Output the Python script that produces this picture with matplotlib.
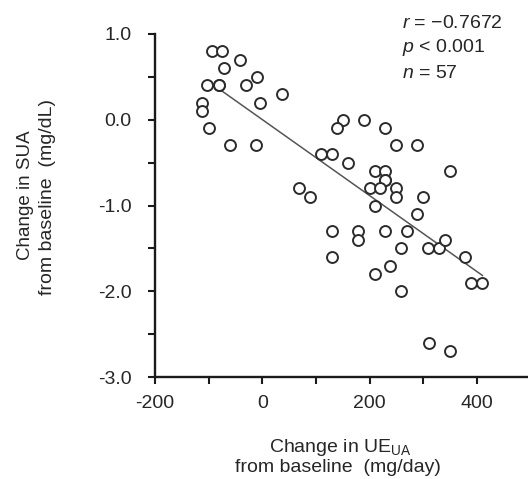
import numpy as np
import matplotlib.pyplot as plt

from matplotlib.pyplot import MultipleLocator

plt.rcParams['font.family']=['Liberation Sans','DejaVu Sans']
plt.rcParams['mathtext.fontset']='custom'
plt.rcParams['mathtext.rm']='Liberation Sans'
plt.rcParams['mathtext.it']='Liberation Sans:italic'

#change in urinary excretion of uric acid (mg/day)
list_change_UE=[-94,-75,-42,-72,-10,-30,-103,-81,-81,37,
                -4,-112,-112,-100,-61,-11,150,139,189,229,
                249,289,109,130,159,209,229,229,229,349,
                68,88,200,220,249,249,299,209,289,130,
                179,179,229,269,259,309,330,340,378,130,
                238,209,259,389,409,310,349]

#change in serum uric acid (mg/dL)
list_change_SUA=[0.8,0.8,0.7,0.6,0.5,0.4,0.4,0.4,0.4,0.3,
                 0.2,0.2,0.1,-0.1,-0.3,-0.3,0.0,-0.1,0.0,-0.1,
                 -0.3,-0.3,-0.4,-0.4,-0.5,-0.6,-0.6,-0.7,-0.7,-0.6,
                 -0.8,-0.9,-0.8,-0.8,-0.8,-0.9,-0.9,-1.0,-1.1,-1.3,
                 -1.3,-1.4,-1.3,-1.3,-1.5,-1.5,-1.5,-1.4,-1.6,-1.6,
                 -1.7,-1.8,-2.0,-1.9,-1.9,-2.6,-2.7]

#range covered by the regression line
list_fit_range=[-85,410]

str_stats=['$\\it{r}$ = \u22120.7672',
           '$\\it{p}$ < 0.001',
           '$\\it{n}$ = 57']

x_ticks=[-200,0,200,400]
y_ticks=[1.0,0.0,-1.0,-2.0,-3.0]

text_color='#262626'

fig=plt.figure(figsize=(5.28,4.79),dpi=100)

ax=fig.add_axes([155/528,1-377/479,375.75/528,343/479])

#scatter of individual patients
ax.scatter(list_change_UE,
           list_change_SUA,
           s=62,
           facecolors='white',
           edgecolors='#2b2b2b',
           linewidths=1.4,
           zorder=3,
           clip_on=False)

#least squares line
slope,intercept=np.polyfit(list_change_UE,list_change_SUA,1)
fit_x=np.array(list_fit_range)
ax.plot(fit_x,slope*fit_x+intercept,color='#555555',linewidth=1.1,zorder=2)

#axis boundary
ax.set_xlim([-200,500])
ax.set_ylim([-3,1])

ax.spines['top'].set_visible(False)
ax.spines['right'].set_visible(False)
ax.spines['left'].set_linewidth(1.7)
ax.spines['bottom'].set_linewidth(1.7)
ax.spines['left'].set_color('#1a1a1a')
ax.spines['bottom'].set_color('#1a1a1a')

#set locator
ax.set_xticks(x_ticks)
ax.set_xticklabels([str(t) for t in x_ticks])
ax.set_yticks(y_ticks)
ax.set_yticklabels(['%.1f'%t for t in y_ticks])
ax.xaxis.set_minor_locator(MultipleLocator(100))
ax.yaxis.set_minor_locator(MultipleLocator(0.5))

ax.tick_params(which='both',direction='out',length=5,width=1.5,color='#1a1a1a')
ax.tick_params(axis='x',labelsize=14,pad=8,labelcolor=text_color)
ax.tick_params(axis='y',labelsize=14,pad=12,labelcolor=text_color)

#axis labels
fig.text(340/528,1-447/479,'Change in UE$_{\\mathrm{UA}}$',
         fontsize=14,ha='center',va='center',color=text_color)
fig.text(338/528,1-467/479,'from baseline  (mg/day)',
         fontsize=14,ha='center',va='center',color=text_color)

fig.text(25/528,1-195/479,'Change in SUA',
         fontsize=13.5,rotation=90,ha='center',va='center',color=text_color)
fig.text(48/528,1-197/479,'from baseline  (mg/dL)',
         fontsize=14,rotation=90,ha='center',va='center',color=text_color)

#correlation statistics
for k,this_str in enumerate(str_stats):

    fig.text(402/528,1-(23+25*k)/479,this_str,
             fontsize=14,ha='left',va='center',color=text_color)

plt.savefig('out.png',dpi=100)
plt.close()
